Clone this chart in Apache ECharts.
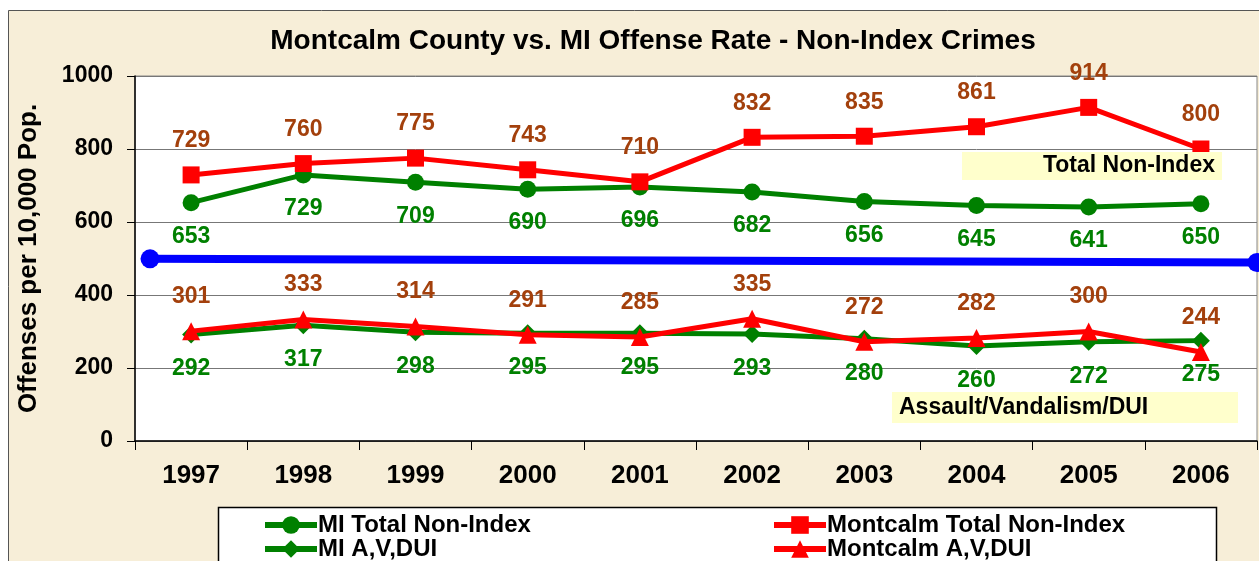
<!DOCTYPE html>
<html>
<head>
<meta charset="utf-8">
<script src="https://cdn.jsdelivr.net/npm/echarts@6/dist/echarts.min.js"></script>
<style>
html,body{margin:0;padding:0;background:#fff;}
#c{width:1259px;height:561px;}
</style>
</head>
<body>
<div id="c"></div>
<script>
var years = ['1997','1998','1999','2000','2001','2002','2003','2004','2005','2006'];
var miTotal = [653,729,709,690,696,682,656,645,641,650];
var montcalmTotal = [729,760,775,743,710,832,835,861,914,800];
var miAVD = [292,317,298,295,295,293,280,260,272,275];
var montcalmAVD = [301,333,314,291,285,335,272,282,300,244];
var blueLine = [[0.0134,499],[1,489]];
var yTicks = [0,200,400,600,800,1000];

var FONT = '"Liberation Sans", Arial, sans-serif';
var GREEN = '#008000', RED = '#FF0000', BROWN = '#A3400C', BLUE = '#0000FF';

function lbl(color, pos){
  return {show:true, position:pos, distance:14, color:color, fontFamily:FONT,
          fontWeight:'bold', fontSize:23};
}
function leg(name, left, top){
  return {data:[name], orient:'horizontal', left:left, top:top, padding:0,
          itemWidth:52, itemHeight:22, itemGap:0,
          lineStyle:{width:6},
          textStyle:{fontFamily:FONT, fontWeight:'bold', fontSize:24, color:'#000', lineHeight:24, padding:[0,0,0,-4]}};
}

var chart = echarts.init(document.getElementById('c'));
chart.setOption({
  animation:false,
  backgroundColor:'#fff',
  textStyle:{fontFamily:FONT},
  graphic:[
    {type:'rect', z:-10, shape:{x:8.5,y:10.5,width:1260,height:560},
     style:{fill:'#F7EED8', stroke:'#555', lineWidth:1}},
    {type:'rect', z:-9, shape:{x:218.5,y:507.5,width:998,height:60},
     style:{fill:'#fff', stroke:'#000', lineWidth:1.5}},
    {type:'rect', z:50, shape:{x:962,y:152,width:260,height:28},
     style:{fill:'#FFFFCC'}},
    {type:'text', z:51, x:1215, y:166,
     style:{text:'Total Non-Index', fill:'#000', font:'bold 23px '+FONT, align:'right', verticalAlign:'middle'}},
    {type:'rect', z:50, shape:{x:892,y:392,width:346,height:31},
     style:{fill:'#FFFFCC'}},
    {type:'text', z:51, x:899, y:408,
     style:{text:'Assault/Vandalism/DUI', fill:'#000', font:'bold 23px '+FONT, align:'left', verticalAlign:'middle'}}
  ],
  title:{text:'Montcalm County vs. MI Offense Rate - Non-Index Crimes', left:648, top:22, textAlign:'center',
         textStyle:{fontFamily:FONT, fontWeight:'bold', fontSize:28, color:'#000'}},
  grid:{left:135, right:2, top:76, bottom:120, show:true, backgroundColor:'#fff', borderColor:'#888', borderWidth:1},
  legend:[
    leg('MI Total Non-Index', 262, 513),
    leg('MI A,V,DUI', 262, 537),
    leg('Montcalm Total Non-Index', 771, 513),
    leg('Montcalm A,V,DUI', 771, 537)
  ],
  xAxis:[
    {type:'category', data:years, boundaryGap:true,
     axisLine:{lineStyle:{color:'#000', width:1.5}},
     axisTick:{show:true, length:9, lineStyle:{color:'#000'}},
     axisLabel:{fontFamily:FONT, fontWeight:'bold', fontSize:26, color:'#000', margin:22},
     splitLine:{show:false}},
    {type:'value', min:0, max:1, show:false}
  ],
  yAxis:{type:'value', min:yTicks[0], max:yTicks[yTicks.length-1], interval:200,
     name:'Offenses per 10,000 Pop.', nameLocation:'middle', nameGap:93, nameRotate:90,
     nameTextStyle:{fontFamily:FONT, fontWeight:'bold', fontSize:26, color:'#000'},
     axisLine:{show:true, lineStyle:{color:'#000', width:1.5}},
     axisTick:{show:true, length:8, lineStyle:{color:'#000'}},
     axisLabel:{fontFamily:FONT, fontWeight:'bold', fontSize:23, color:'#000', margin:22,
                formatter:function(v){return String(v);}},
     splitLine:{lineStyle:{color:'#777', width:1}}},
  series:[
    {name:'MI Total Non-Index', type:'line', data:miTotal, symbol:'circle', symbolSize:17,
     lineStyle:{color:GREEN, width:5}, itemStyle:{color:GREEN}, label:lbl(GREEN,'bottom'), z:3},
    {name:'Montcalm Total Non-Index', type:'line', data:montcalmTotal, symbol:'rect', symbolSize:17,
     lineStyle:{color:RED, width:5}, itemStyle:{color:RED}, label:lbl(BROWN,'top'), z:4},
    {name:'MI A,V,DUI', type:'line', data:miAVD, symbol:'diamond', symbolSize:18,
     lineStyle:{color:GREEN, width:5}, itemStyle:{color:GREEN}, label:lbl(GREEN,'bottom'), z:3},
    {name:'Montcalm A,V,DUI', type:'line', data:montcalmAVD, symbol:'triangle', symbolSize:18,
     lineStyle:{color:RED, width:5}, itemStyle:{color:RED}, label:lbl(BROWN,'top'), z:4},
    {name:'Reference', type:'line', xAxisIndex:1, data:blueLine, symbol:'circle', symbolSize:19,
     lineStyle:{color:BLUE, width:8}, itemStyle:{color:BLUE}, clip:false, z:5}
  ]
});
</script>
</body>
</html>
